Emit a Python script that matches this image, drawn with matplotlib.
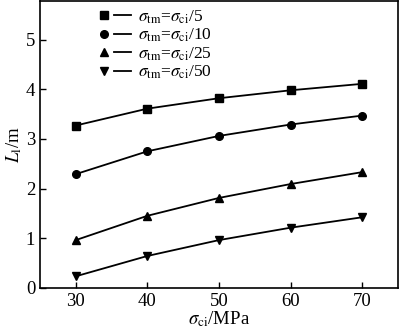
import matplotlib.pyplot as plt
from matplotlib.legend_handler import HandlerBase
from matplotlib.lines import Line2D

plt.rcParams['font.family'] = ['Liberation Serif', 'DejaVu Serif']
plt.rcParams['mathtext.fontset'] = 'stix'

sigma_ci = [30, 40, 50, 60, 70]
L_5 = [3.27, 3.61, 3.82, 3.98, 4.11]
L_10 = [2.29, 2.75, 3.06, 3.29, 3.47]
L_25 = [0.96, 1.45, 1.81, 2.09, 2.33]
L_50 = [0.23, 0.64, 0.96, 1.21, 1.42]

labels = [r'$\sigma_{\rm tm}$=$\sigma_{\rm ci}$/5',
          r'$\sigma_{\rm tm}$=$\sigma_{\rm ci}$/10',
          r'$\sigma_{\rm tm}$=$\sigma_{\rm ci}$/25',
          r'$\sigma_{\rm tm}$=$\sigma_{\rm ci}$/50']
markers = ['s', 'o', '^', 'v']


class MarkerThenLine(HandlerBase):
    # marker on the left, short line segment to its right
    def create_artists(self, legend, orig, xd, yd, w, h, fs, trans):
        y = -yd + h / 2
        x0 = -xd
        seg = Line2D([x0 + 0.42 * w, x0 + 0.95 * w], [y, y], color='black', lw=1.3)
        mk = Line2D([x0 + 0.1 * w], [y], marker=orig.get_marker(),
                    ms=orig.get_markersize(), color='black', ls='none')
        seg.set_transform(trans)
        mk.set_transform(trans)
        return [seg, mk]


fig = plt.figure(figsize=(4.0, 3.33), dpi=100)
ax = fig.add_axes([0.1, 0.136, 0.895, 0.861])

lines = []
for vals, m, lab in zip([L_5, L_10, L_25, L_50], markers, labels):
    ln, = ax.plot(sigma_ci, vals, color='black', lw=1.3, marker=m, ms=5.5, label=lab)
    lines.append(ln)

ax.set_xlim(25, 75)
ax.set_ylim(0, 5.78)
ax.set_xticks(sigma_ci)
ax.set_yticks([0, 1, 2, 3, 4, 5])
ax.tick_params(direction='in', length=4, width=1, labelsize=13.5, top=False, right=False)
for s in ax.spines.values():
    s.set_linewidth(1.2)

ax.set_xlabel(r'$\sigma_{\rm ci}$/MPa', fontsize=13.5, labelpad=0)
ax.set_ylabel(r'$L_{\rm l}$/m', fontsize=13.5, labelpad=1)

ax.legend(handles=lines, handler_map={Line2D: MarkerThenLine()}, loc='upper left',
          bbox_to_anchor=(0.15, 0.998), frameon=False, fontsize=12.5, handlelength=1.85,
          handletextpad=0.3, labelspacing=0.06, borderaxespad=0.0)

fig.savefig('out.png', dpi=100)
